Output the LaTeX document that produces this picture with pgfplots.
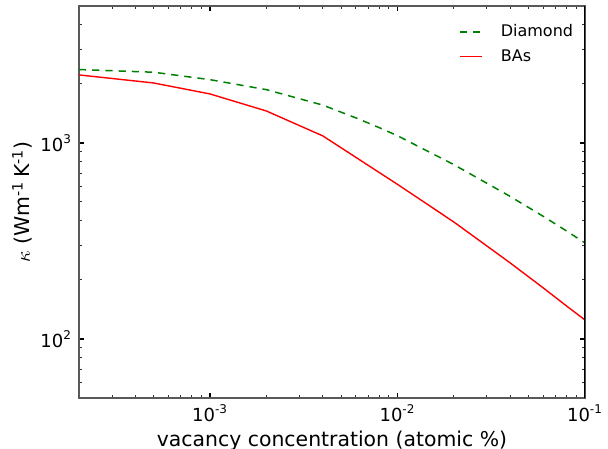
\documentclass[border=0pt]{standalone}
\usepackage{fontspec}
\setmainfont{DejaVu Sans}
\usepackage{pgfplots}
\pgfplotsset{compat=1.18}
\definecolor{mplgreen}{rgb}{0,0.5,0}
\pgfplotstableread{
x y
2e-4 2370
5e-4 2296
1e-3 2104
2e-3 1871
4e-3 1560
6e-3 1343
8e-3 1197
1e-2 1089
2e-2 775
4e-2 533
6e-2 422
8e-2 355
1e-1 309
}\diamond
\pgfplotstableread{
x y
2e-4 2225
5e-4 2024
1e-3 1779
2e-3 1456
4e-3 1086
1e-2 615
2e-2 395
4e-2 244
6e-2 182
8e-2 147
1e-1 125
}\bas
\begin{document}
\begin{tikzpicture}
\begin{axis}[
 scale only axis, width=253pt, height=196pt,
 xmode=log, ymode=log, log basis x=10, log basis y=10,
 xmin=2e-4, xmax=1e-1, ymin=50, ymax=5000,
 axis line style={draw=black!65, line width=0.9pt},
 tick align=inside,
 xtick={1e-3,1e-2,1e-1},
 xticklabels={10\textsuperscript{-3},10\textsuperscript{-2},10\textsuperscript{-1}},
 ytick={100,1000},
 yticklabels={10\textsuperscript{2},10\textsuperscript{3}},
 minor xtick={3e-4,4e-4,5e-4,6e-4,7e-4,8e-4,9e-4,2e-3,3e-3,4e-3,5e-3,6e-3,7e-3,8e-3,9e-3,2e-2,3e-2,4e-2,5e-2,6e-2,7e-2,8e-2,9e-2},
 minor ytick={60,70,80,90,200,300,400,500,600,700,800,900,2000,3000,4000},
 major tick length=2.5pt, minor tick length=1.5pt,
 every major tick/.style={black, line width=0.8pt},
 every minor tick/.style={black!80, line width=0.5pt},
 tick label style={font=\fontsize{9}{10}\selectfont},
 xlabel={vacancy concentration (atomic \%)},
 ylabel={$\kappa$ (Wm\textsuperscript{-1}\,K\textsuperscript{-1})},
 xlabel shift=-2.5pt,
 ylabel shift=-3pt,
 label style={font=\fontsize{10.2}{12}\selectfont},
 legend style={draw=none, fill=none, at={(0.997,0.975)}, anchor=north east, font=\fontsize{8}{10}\selectfont, row sep=1pt},
 legend cell align=left,
 legend image code/.code={\draw[#1] (0pt,0pt) -- (11pt,0pt); \path (18pt,0pt);},
]
\addplot[mplgreen, line width=0.75pt, dash pattern=on 3.6pt off 3pt] table[x=x,y=y] {\diamond};
\addlegendentry{Diamond}
\addplot[red, line width=0.7pt] table[x=x,y=y] {\bas};
\addlegendentry{BAs}
\draw[black, line width=0.9pt] (rel axis cs:1,0) -- (rel axis cs:1,1);
\end{axis}
\pgfresetboundingbox
\path[use as bounding box] (-39.5pt,-25pt) rectangle (264.5pt,199pt);
\end{tikzpicture}
\end{document}
